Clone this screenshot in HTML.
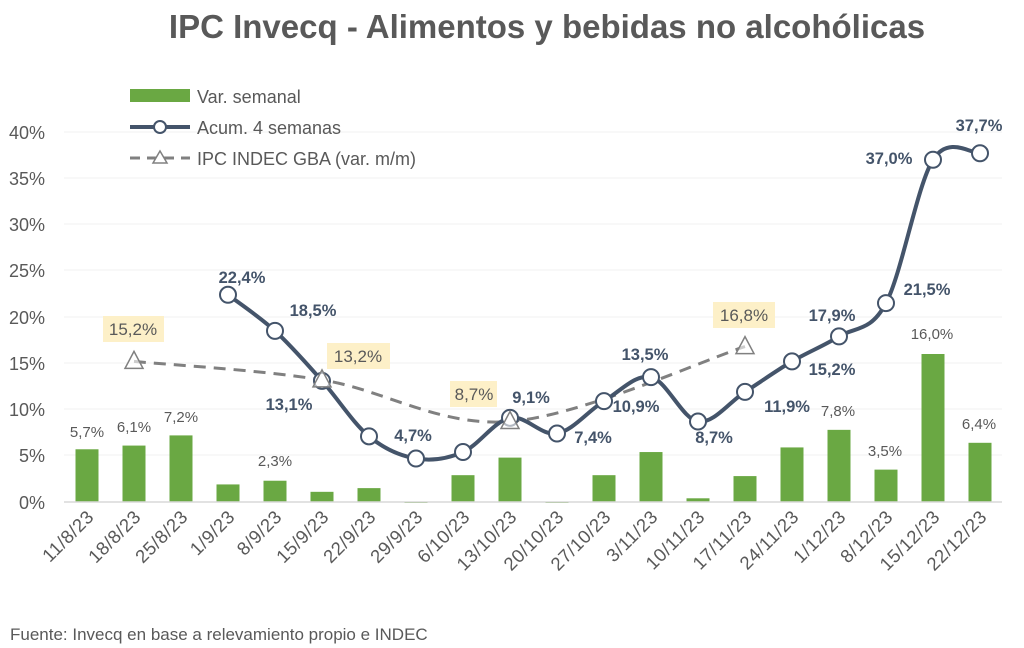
<!DOCTYPE html>
<html><head><meta charset="utf-8"><style>
body{margin:0;background:#fff}
svg{display:block;font-family:"Liberation Sans",sans-serif}
</style></head><body>
<svg id="s" width="1024" height="648" viewBox="0 0 1024 648">
<text x="547" y="38" text-anchor="middle" font-size="33" font-weight="bold" fill="#595959">IPC Invecq - Alimentos y bebidas no alcohólicas</text>
<g stroke="#f0f0f0" stroke-width="1">
<line x1="64" x2="1002" y1="132" y2="132"/><line x1="64" x2="1002" y1="178" y2="178"/><line x1="64" x2="1002" y1="224" y2="224"/><line x1="64" x2="1002" y1="270" y2="270"/><line x1="64" x2="1002" y1="317" y2="317"/><line x1="64" x2="1002" y1="363" y2="363"/><line x1="64" x2="1002" y1="409" y2="409"/><line x1="64" x2="1002" y1="455" y2="455"/>
</g>
<g font-size="18" fill="#595959" text-anchor="end">
<text x="45" y="139">40%</text><text x="45" y="185">35%</text><text x="45" y="231">30%</text><text x="45" y="277">25%</text><text x="45" y="324">20%</text><text x="45" y="370">15%</text><text x="45" y="416">10%</text><text x="45" y="462">5%</text><text x="45" y="509">0%</text>
</g>
<g id="bars" fill="#6aa843"></g>
<line x1="64" x2="1002" y1="502" y2="502" stroke="#d9d9d9" stroke-width="1.5"/>
<g id="xl" font-size="18.5" fill="#595959" text-anchor="end" letter-spacing="0.5"></g>
<g font-size="15" fill="#595959" text-anchor="middle">
<text x="87" y="437">5,7%</text><text x="134" y="432">6,1%</text><text x="181" y="422">7,2%</text><text x="275" y="466">2,3%</text><text x="838" y="416">7,8%</text><text x="885" y="456">3,5%</text><text x="932" y="339">16,0%</text><text x="979" y="429">6,4%</text>
</g>
<path id="dash" fill="none" stroke="#808080" stroke-width="3" stroke-dasharray="12,8"/>
<path id="line" fill="none" stroke="#44546a" stroke-width="4"/>
<g id="dots"></g>
<g font-size="17" fill="#595959" text-anchor="middle">
<rect x="103" y="316" width="61" height="26" fill="#fdf0c8"/><text x="133" y="335">15,2%</text>
<rect x="327" y="343" width="63" height="26" fill="#fdf0c8"/><text x="358" y="362">13,2%</text>
<rect x="450" y="381" width="47" height="26" fill="#fdf0c8"/><text x="474" y="400">8,7%</text>
<rect x="713" y="302" width="62" height="26" fill="#fdf0c8"/><text x="744" y="321">16,8%</text>
</g>
<g font-size="16.5" font-weight="bold" fill="#44546a" text-anchor="middle">
<text x="242" y="283">22,4%</text><text x="313" y="316">18,5%</text><text x="289" y="410">13,1%</text><text x="413" y="441">4,7%</text><text x="531" y="403">9,1%</text><text x="593" y="443">7,4%</text><text x="636" y="412">10,9%</text><text x="645" y="360">13,5%</text><text x="714" y="443">8,7%</text><text x="787" y="412">11,9%</text><text x="832" y="375">15,2%</text><text x="832" y="321">17,9%</text><text x="927" y="295">21,5%</text><text x="889" y="164">37,0%</text><text x="979" y="131">37,7%</text>
</g>
<rect x="130" y="89" width="60" height="13" fill="#6aa843"/>
<text x="197" y="103" font-size="18" fill="#595959">Var. semanal</text>
<line x1="130" x2="190" y1="127" y2="127" stroke="#44546a" stroke-width="4"/>
<circle cx="160" cy="127" r="6" fill="#fff" stroke="#44546a" stroke-width="2"/>
<text x="197" y="134" font-size="18" fill="#595959">Acum. 4 semanas</text>
<line x1="130" x2="190" y1="158" y2="158" stroke="#808080" stroke-width="3" stroke-dasharray="10,7"/>
<polygon points="160,151 167,163 153,163" fill="#fff" stroke="#808080" stroke-width="1.5"/>
<text x="197" y="165" font-size="18" fill="#595959">IPC INDEC GBA (var. m/m)</text>
<text x="10" y="640" font-size="17" fill="#595959">Fuente: Invecq en base a relevamiento propio e INDEC</text>
</svg>
<script>
var NS="http://www.w3.org/2000/svg";
function Y(v){return 502-9.25*v}
function X(i){return 87+47*i}
var labels=["11/8/23","18/8/23","25/8/23","1/9/23","8/9/23","15/9/23","22/9/23","29/9/23","6/10/23","13/10/23","20/10/23","27/10/23","3/11/23","10/11/23","17/11/23","24/11/23","1/12/23","8/12/23","15/12/23","22/12/23"];
var bars=[5.7,6.1,7.2,1.9,2.3,1.1,1.5,-0.1,2.9,4.8,-0.1,2.9,5.4,0.4,2.8,5.9,7.8,3.5,16.0,6.4];
var bg=document.getElementById("bars"),xl=document.getElementById("xl");
bars.forEach(function(v,i){var r=document.createElementNS(NS,"rect");var y=Y(Math.max(v,0)),h=Math.abs(v)*9.25;if(v<0){y=502;}r.setAttribute("x",X(i)-11.5);r.setAttribute("y",y);r.setAttribute("width",23);r.setAttribute("height",Math.max(h,1));bg.appendChild(r);
var t=document.createElementNS(NS,"text");t.setAttribute("transform","translate("+(X(i)+8)+",518) rotate(-45)");t.textContent=labels[i];xl.appendChild(t);});
function path(p){var d="M"+p[0][0]+","+p[0][1];for(var i=0;i<p.length-1;i++){var p0=p[i-1]||p[i],p1=p[i],p2=p[i+1],p3=p[i+2]||p2;d+=" C"+(p1[0]+(p2[0]-p0[0])/6)+","+(p1[1]+(p2[1]-p0[1])/6)+" "+(p2[0]-(p3[0]-p1[0])/6)+","+(p2[1]-(p3[1]-p1[1])/6)+" "+p2[0]+","+p2[1];}return d;}
var lv=[22.4,18.5,13.1,7.1,4.7,5.4,9.1,7.4,10.9,13.5,8.7,11.9,15.2,17.9,21.5,37.0,37.7];
var lp=lv.map(function(v,k){return [X(k+3),Y(v)]});
document.getElementById("line").setAttribute("d",path(lp));
var dp=[[X(1),Y(15.2)],[X(5),Y(13.2)],[X(9),Y(8.7)],[X(14),Y(16.8)]];
document.getElementById("dash").setAttribute("d",path(dp));
var dots=document.getElementById("dots");
lp.forEach(function(p){var c=document.createElementNS(NS,"circle");c.setAttribute("cx",p[0]);c.setAttribute("cy",p[1]);c.setAttribute("r",8);c.setAttribute("fill","#fff");c.setAttribute("stroke","#44546a");c.setAttribute("stroke-width","2");dots.appendChild(c);});
dp.forEach(function(p){var g=document.createElementNS(NS,"polygon");var x=p[0],y=p[1];g.setAttribute("points",x+","+(y-10)+" "+(x+9)+","+(y+7)+" "+(x-9)+","+(y+7));g.setAttribute("fill","#fff");g.setAttribute("fill-opacity","0.6");g.setAttribute("stroke","#808080");g.setAttribute("stroke-width","1.5");dots.appendChild(g);});
</script>
</body></html>
